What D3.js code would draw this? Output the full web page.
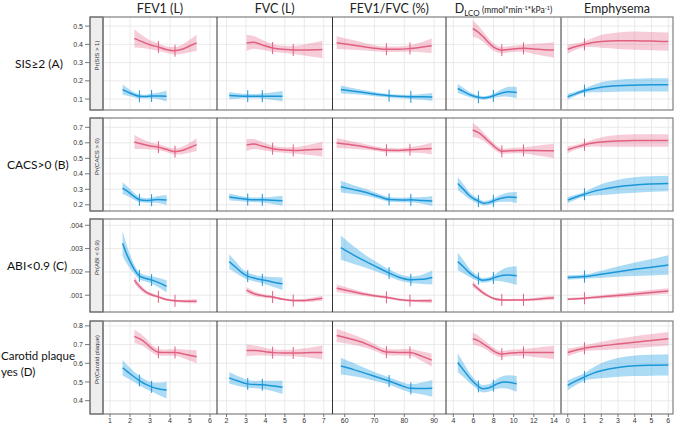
<!DOCTYPE html>
<html><head><meta charset="utf-8">
<script src="https://cdn.jsdelivr.net/npm/d3@7"></script>
<style>body{margin:0;background:#fff}svg{display:block}</style>
</head><body><div id="chart"></div>
<script>
// ---------- data ----------
const columns = ["FEV1 (L)", "FVC (L)", "FEV1/FVC (%)", "DLCO", "Emphysema"];
const rowLabels = [["SIS≥2 (A)"], ["CACS>0 (B)"], ["ABI<0.9 (C)"], ["Carotid plaque", "yes (D)"]];
const stripLabels = ["Pr(SIS > 1)", "Pr(CACS > 0)", "Pr(ABI < 0.9)", "Pr(Carotid plaque)"];
const xDomains = [[0.65, 6.35], [1.51, 7.45], [55.9, 94.0], [3.27, 14.7], [-0.4, 6.28]];
const xTicks = [[1,2,3,4,5,6],[2,3,4,5,6,7],[60,70,80,90],[4,6,8,10,12,14],[0,1,2,3,4,5,6]];
const yDomains = [[0.04, 0.55], [0.16, 0.76], [0.00028, 0.00427], [0.329, 0.826]];
const yTicks = [[0.1,0.2,0.3,0.4,0.5],[0.2,0.3,0.4,0.5,0.6,0.7],[0.001,0.002,0.003,0.004],[0.4,0.5,0.6,0.7,0.8]];
const yTickLabels = [["0.1","0.2","0.3","0.4","0.5"],["0.2","0.3","0.4","0.5","0.6","0.7"],[".001",".002",".003",".004"],["0.4","0.5","0.6","0.7","0.8"]];
const pinkKnots = [[3.42,4.25],[4.37,5.43],[74.0,81.9],[8.82,10.97],[1]];
const blueKnots = [[2.47,3.08],[3.09,3.84],[74.9,82.2],[6.49,7.98],[1]];

// each point: [x, fitted probability, half-width of confidence band]
const sisPink = [
 [[2.22,.433,.05],[2.6,.415,.035],[3.0,.398,.025],[3.42,.385,.02],[3.8,.372,.018],[4.25,.365,.02],[4.6,.373,.025],[5.0,.392,.035],[5.33,.408,.045]],
 [[3.03,.408,.045],[3.4,.411,.035],[3.8,.398,.028],[4.37,.38,.022],[5.0,.372,.02],[5.43,.369,.022],[6.0,.369,.03],[6.5,.37,.04],[6.93,.372,.048]],
 [[57.3,.409,.035],[62,.398,.028],[67,.386,.02],[71,.377,.016],[74,.373,.015],[78,.373,.015],[81.9,.377,.018],[86,.385,.028],[89.2,.392,.04]],
 [[5.93,.487,.045],[6.5,.466,.035],[7,.44,.028],[7.5,.41,.024],[8,.385,.02],[8.5,.372,.018],[8.82,.368,.017],[9.5,.372,.017],[10.5,.377,.018],[11,.378,.02],[12,.375,.028],[13,.371,.035],[14,.369,.042]],
 [[0,.373,.025],[0.5,.388,.018],[1,.4,.016],[1.5,.41,.025],[2,.416,.035],[3,.42,.045],[4,.42,.05],[5,.418,.05],[6,.415,.05]]
];
const sisBlue = [
 [[1.63,.152,.028],[2.0,.133,.018],[2.47,.115,.012],[2.8,.114,.01],[3.08,.117,.012],[3.5,.117,.02],[3.83,.116,.03]],
 [[2.14,.119,.02],[2.6,.117,.015],[3.09,.116,.012],[3.5,.116,.012],[3.84,.116,.014],[4.3,.116,.02],[4.88,.116,.028]],
 [[58.7,.153,.022],[63,.143,.016],[68,.132,.012],[72,.123,.01],[75,.118,.01],[79,.114,.01],[82.2,.112,.011],[86,.112,.016],[89.4,.111,.022]],
 [[4.44,.158,.025],[5,.142,.02],[5.5,.127,.015],[6,.117,.012],[6.5,.11,.01],[7,.106,.01],[7.5,.11,.01],[8,.118,.012],[8.5,.128,.018],[9,.136,.022],[9.5,.14,.027],[10.3,.136,.032]],
 [[0,.113,.016],[0.5,.13,.012],[1,.146,.012],[1.5,.157,.02],[2,.165,.027],[3,.173,.033],[4,.176,.035],[5,.178,.036],[6,.178,.036]]
];
const cacsPink = [
 [[2.22,.605,.045],[2.6,.592,.032],[3.0,.58,.024],[3.42,.572,.02],[3.8,.558,.018],[4.25,.543,.02],[4.6,.55,.024],[5.0,.57,.032],[5.33,.588,.042]],
 [[3.03,.585,.04],[3.4,.592,.032],[3.8,.58,.026],[4.37,.562,.02],[5.0,.553,.018],[5.43,.551,.02],[6.0,.553,.028],[6.5,.556,.038],[6.93,.558,.048]],
 [[57.3,.598,.032],[62,.587,.025],[67,.573,.018],[71,.56,.015],[74,.552,.014],[78,.551,.014],[81.9,.555,.017],[86,.56,.026],[89.2,.563,.038]],
 [[5.93,.683,.045],[6.5,.665,.035],[7,.64,.027],[7.5,.61,.022],[8,.58,.02],[8.5,.555,.018],[8.82,.545,.017],[9.5,.548,.017],[10.5,.551,.018],[11,.551,.02],[12,.55,.028],[13,.549,.038],[14,.548,.048]],
 [[0,.555,.022],[0.5,.572,.016],[1,.587,.015],[1.5,.598,.022],[2,.605,.03],[3,.612,.038],[4,.615,.04],[5,.615,.04],[6,.615,.04]]
];
const cacsBlue = [
 [[1.63,.308,.038],[1.9,.285,.03],[2.2,.255,.022],[2.47,.233,.017],[2.8,.228,.015],[3.08,.23,.016],[3.4,.234,.022],[3.83,.231,.032]],
 [[2.14,.251,.022],[2.6,.242,.018],[3.09,.234,.015],[3.5,.232,.015],[3.84,.232,.017],[4.3,.229,.022],[4.88,.226,.032]],
 [[58.7,.317,.038],[63,.298,.028],[68,.275,.02],[72,.25,.016],[75,.234,.015],[79,.231,.015],[82.2,.232,.016],[86,.228,.022],[89.4,.225,.032]],
 [[4.44,.338,.042],[5,.3,.032],[5.5,.265,.024],[6,.24,.018],[6.5,.224,.016],[7,.21,.015],[7.5,.214,.015],[8,.226,.016],[8.5,.238,.02],[9,.246,.026],[9.5,.25,.03],[10.3,.247,.036]],
 [[0,.23,.02],[0.5,.25,.016],[1,.268,.015],[1.5,.285,.025],[2,.298,.035],[3,.317,.045],[4,.328,.05],[5,.334,.05],[6,.338,.05]]
];
const abiPink = [
 [[2.22,.00165,.00016],[2.5,.00135,.00012],[2.8,.00113,.00009],[3.1,.00101,.00007],[3.42,.00093,.00006],[3.8,.00082,.00005],[4.25,.00076,.00005],[4.8,.00074,.00007],[5.33,.00074,.0001]],
 [[3.03,.00122,.00013],[3.5,.00104,.0001],[4.0,.00096,.00007],[4.37,.00092,.00006],[4.9,.00083,.00005],[5.43,.00077,.00005],[6.0,.00077,.00007],[6.5,.00082,.00009],[6.93,.00087,.00011]],
 [[57.3,.0013,.00016],[62,.00117,.00012],[67,.00104,.00008],[71,.00096,.00006],[74,.00091,.00006],[78,.00082,.00005],[81.9,.00077,.00005],[86,.00076,.00007],[89.2,.00076,.0001]],
 [[5.93,.00147,.00013],[6.5,.00126,.0001],[7,.00109,.00008],[7.5,.00096,.00006],[8,.00086,.00005],[8.82,.0008,.00005],[9.5,.00079,.00005],[10.5,.0008,.00005],[11,.0008,.00005],[12,.00082,.00006],[13,.00086,.00008],[14,.00089,.0001]],
 [[0,.00083,.00005],[1,.00087,.00005],[2,.00093,.00007],[3,.00099,.00009],[4,.00105,.0001],[5,.00112,.00011],[6,.00118,.00012]]
];
const abiBlue = [
 [[1.63,.00323,.00055],[1.8,.00283,.00042],[2.0,.00245,.0003],[2.2,.00213,.0002],[2.47,.00183,.00015],[2.8,.00172,.00014],[3.08,.00165,.00015],[3.4,.00155,.0002],[3.83,.00138,.00026]],
 [[2.14,.00244,.00032],[2.5,.00218,.00024],[2.8,.00196,.00018],[3.09,.00182,.00015],[3.5,.00172,.00014],[3.84,.00166,.00015],[4.3,.00158,.0002],[4.88,.00149,.00027]],
 [[58.7,.00304,.00052],[63,.00272,.00038],[67,.00245,.00027],[71,.0022,.0002],[74.9,.00195,.00015],[78,.00178,.00014],[82.2,.00166,.00014],[86,.00168,.0002],[89.4,.00176,.0003]],
 [[4.44,.00244,.00038],[5,.00222,.00028],[5.5,.002,.0002],[6,.00183,.00014],[6.5,.00171,.00011],[6.9,.00164,.0001],[7.5,.00167,.0001],[8,.00174,.00012],[8.5,.00181,.0002],[9,.00186,.00028],[9.5,.00187,.00034],[10.3,.00184,.0004]],
 [[0,.00176,.0001],[1,.0018,.00009],[2,.0019,.00015],[3,.00201,.00022],[4,.00211,.00029],[5,.0022,.00035],[6,.0023,.00042]]
];
const carotidPink = [
 [[2.22,.744,.035],[2.5,.73,.03],[2.8,.707,.025],[3.1,.678,.02],[3.42,.659,.018],[3.8,.657,.017],[4.25,.658,.018],[4.8,.647,.025],[5.33,.635,.035]],
 [[3.03,.668,.032],[3.5,.668,.026],[4,.662,.02],[4.37,.657,.018],[5,.655,.017],[5.43,.655,.018],[6,.656,.024],[6.5,.657,.03],[6.93,.658,.038]],
 [[57.3,.749,.035],[62,.73,.028],[67,.705,.022],[70,.685,.018],[74,.66,.017],[78,.658,.017],[81.9,.658,.018],[86,.637,.026],[89.2,.617,.035]],
 [[5.93,.731,.032],[6.5,.72,.027],[7,.703,.023],[7.5,.685,.02],[8,.665,.018],[8.5,.652,.017],[8.82,.649,.017],[9.5,.654,.017],[10.5,.657,.018],[11,.658,.019],[12,.658,.024],[13,.658,.03],[14,.658,.036]],
 [[0,.658,.02],[1,.68,.015],[2,.693,.022],[3,.703,.028],[4,.713,.032],[5,.722,.034],[6,.731,.036]]
];
const carotidBlue = [
 [[1.63,.576,.042],[1.9,.553,.034],[2.2,.528,.028],[2.47,.508,.025],[2.8,.487,.024],[3.08,.474,.025],[3.4,.464,.032],[3.83,.457,.045]],
 [[2.14,.522,.032],[2.6,.505,.026],[3.09,.49,.021],[3.5,.486,.02],[3.84,.485,.022],[4.3,.48,.027],[4.88,.472,.036]],
 [[58.7,.585,.045],[63,.566,.035],[67,.546,.027],[71,.525,.022],[74.9,.505,.02],[78,.487,.02],[82.2,.466,.022],[86,.465,.032],[89.4,.466,.045]],
 [[4.44,.604,.05],[5,.565,.038],[5.5,.53,.028],[6,.5,.022],[6.5,.476,.02],[6.9,.464,.02],[7.5,.468,.02],[8,.481,.022],[8.5,.493,.028],[9,.5,.033],[9.5,.499,.037],[10.3,.49,.042]],
 [[0,.482,.026],[0.5,.506,.022],[1,.527,.02],[1.5,.546,.03],[2,.56,.04],[3,.578,.05],[4,.587,.055],[5,.59,.056],[6,.591,.056]]
];
const rowsPink = [sisPink, cacsPink, abiPink, carotidPink];
const rowsBlue = [sisBlue, cacsBlue, abiBlue, carotidBlue];

// ---------- layout ----------
const W = 676, H = 426;
const rowTops = [17, 118, 219, 321], rowH = 93;
const stripL = 90, stripR = 103;
const colEdges = [103, 217, 332.5, 446, 561, 673];
const pinkLine = "#e0607f", pinkBand = "rgba(232,110,145,0.35)";
const blueLine = "#1b97d9", blueBand = "rgba(45,165,230,0.40)";
const tickFont = "Liberation Sans, Arial, sans-serif";

const svg = d3.select("#chart").append("svg").attr("width", W).attr("height", H);
const defs = svg.append("defs");

// column titles
const titleX = colEdges.slice(0,5).map((l,i)=> (l+colEdges[i+1])/2);
columns.forEach((c,i)=>{
  const t = svg.append("text").attr("x", titleX[i]).attr("y", 13).attr("text-anchor","middle")
    .attr("font-family","Lato, sans-serif").attr("font-size", 12.5).attr("fill","#222");
  if (c === "DLCO") {
    t.append("tspan").text("D");
    t.append("tspan").attr("font-size",8).attr("dy",3).text("LCO");
    t.append("tspan").attr("font-size",8.5).attr("dy",-3).text(" (mmol*min");
    t.append("tspan").attr("font-size",5.5).attr("dy",-3).text("-1");
    t.append("tspan").attr("font-size",8.5).attr("dy",3).text("*kPa");
    t.append("tspan").attr("font-size",5.5).attr("dy",-3).text("-1");
    t.append("tspan").attr("font-size",8.5).attr("dy",3).text(")");
  } else t.text(c);
});

const rowLabelX = [15, 7, 7, 1];
rowTops.forEach((top, r)=>{
  const y = d3.scaleLinear().domain(yDomains[r]).range([top+rowH, top]);
  const g = svg.append("g");
  // row label
  const lab = rowLabels[r];
  lab.forEach((s,k)=>{
    const base = lab.length > 1 ? top + rowH/2 + (k - 0.5)*16 + 0.5 : top + rowH/2 + 4;
    g.append("text").attr("x", rowLabelX[r]).attr("y", base)
      .attr("font-family","Lato, sans-serif").attr("font-size", lab.length > 1 ? 11.5 : 12).attr("fill","#111").text(s);
  });
  // y ticks
  yTicks[r].forEach((v,k)=>{
    g.append("line").attr("x1",85).attr("x2",90).attr("y1",y(v)).attr("y2",y(v)).attr("stroke","#555").attr("stroke-width",0.8);
    g.append("text").attr("x",83).attr("y",y(v)+2.5).attr("text-anchor","end")
      .attr("font-family",tickFont).attr("font-size",7).attr("fill","#333").text(yTickLabels[r][k]);
  });
  // strip
  g.append("rect").attr("x",stripL).attr("y",top).attr("width",stripR-stripL).attr("height",rowH)
    .attr("fill","#eeeeee").attr("stroke","#777").attr("stroke-width",1);
  g.append("text").attr("transform",`translate(${(stripL+stripR)/2+2.5},${top+rowH/2-8}) rotate(-90)`)
    .attr("text-anchor","middle").attr("font-family",tickFont).attr("font-size",6).attr("fill","#333").text(stripLabels[r]);

  for (let c=0;c<5;c++){
    const x0 = colEdges[c], x1 = colEdges[c+1];
    const x = d3.scaleLinear().domain(xDomains[c]).range([x0, x1]);
    const pg = g.append("g");
    const cid = `clip${r}_${c}`;
    defs.append("clipPath").attr("id",cid).append("rect").attr("x",x0).attr("y",top).attr("width",x1-x0).attr("height",rowH);
    // grid
    xTicks[c].forEach(v=> pg.append("line").attr("x1",x(v)).attr("x2",x(v)).attr("y1",top).attr("y2",top+rowH).attr("stroke","#e4e4e4").attr("stroke-width",0.8));
    yTicks[r].forEach(v=> pg.append("line").attr("x1",x0).attr("x2",x1).attr("y1",y(v)).attr("y2",y(v)).attr("stroke","#e4e4e4").attr("stroke-width",0.8));
    const cg = pg.append("g").attr("clip-path",`url(#${cid})`);
    const series = [[rowsPink[r][c], pinkLine, pinkBand, pinkKnots[c]], [rowsBlue[r][c], blueLine, blueBand, blueKnots[c]]];
    series.forEach(([d, lc, bc])=>{
      const area = d3.area().x(p=>x(p[0])).y0(p=>y(p[1]-p[2])).y1(p=>y(p[1]+p[2])).curve(d3.curveMonotoneX);
      cg.append("path").attr("d", area(d)).attr("fill", bc).attr("stroke","none");
    });
    series.forEach(([d, lc, bc, knots])=>{
      const line = d3.line().x(p=>x(p[0])).y(p=>y(p[1])).curve(d3.curveMonotoneX);
      const path = cg.append("path").attr("d", line(d)).attr("fill","none").attr("stroke", lc).attr("stroke-width",1.5);
      // knots: vertical ticks on the fitted curve
      const node = path.node(), len = node.getTotalLength();
      knots.forEach(k=>{
        const px = x(k);
        let lo=0, hi=len;
        for (let it=0; it<30; it++){ const mid=(lo+hi)/2; if (node.getPointAtLength(mid).x < px) lo=mid; else hi=mid; }
        const py = node.getPointAtLength(lo).y;
        cg.append("line").attr("x1",px).attr("x2",px).attr("y1",py-6).attr("y2",py+6).attr("stroke",lc).attr("stroke-width",1);
      });
    });
    // x-axis ticks on bottom row
    if (r===3){
      xTicks[c].forEach(v=>{
        svg.append("line").attr("x1",x(v)).attr("x2",x(v)).attr("y1",top+rowH).attr("y2",top+rowH+3).attr("stroke","#555").attr("stroke-width",0.8);
        svg.append("text").attr("x",x(v)).attr("y",423).attr("text-anchor","middle")
          .attr("font-family",tickFont).attr("font-size",7).attr("fill","#333").text(v);
      });
    }
  }
  // frame and separators
  g.append("rect").attr("x",stripL).attr("y",top).attr("width",colEdges[5]-stripL).attr("height",rowH)
    .attr("fill","none").attr("stroke","#666").attr("stroke-width",1);
  g.append("line").attr("x1",stripR).attr("x2",stripR).attr("y1",top).attr("y2",top+rowH).attr("stroke","#777").attr("stroke-width",1.5);
  [1,2,3].forEach(k=> g.append("line").attr("x1",colEdges[k]).attr("x2",colEdges[k]).attr("y1",top).attr("y2",top+rowH).attr("stroke","#333").attr("stroke-width",1));
  g.append("line").attr("x1",colEdges[4]).attr("x2",colEdges[4]).attr("y1",top).attr("y2",top+rowH).attr("stroke","#999").attr("stroke-width",2);
});
</script></body></html>
